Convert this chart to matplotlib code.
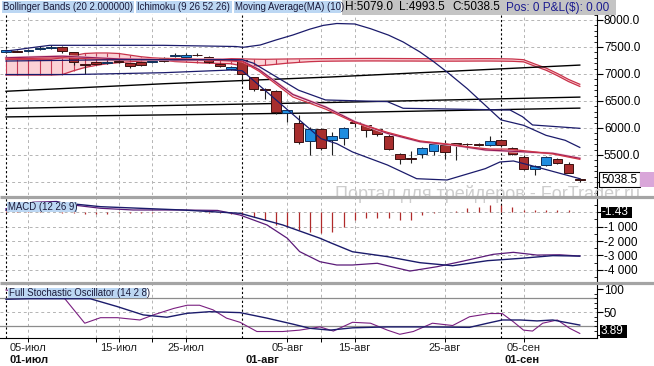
import matplotlib
matplotlib.use("Agg")
import matplotlib.pyplot as plt
import numpy as np
from matplotlib import font_manager
from matplotlib.patches import Rectangle
from matplotlib.transforms import blended_transform_factory

W, H = 654, 366

# slot = trading day index: 0 = 01 Jul, 21 = 01 Aug, 44 = 01 Sep
opens = [7400, 7420, 7430, 7460, 7480, 7505, 7400, 7180, 7216, 7200,
         7230, 7198, 7216, 7220, 7302, 7330, 7309, 7350, 7321, 7180,
         7087, 7259, 6944, 6710, 6679, 6278, 6093, 5753, 5980, 5772,
         5821, 6100, 6050, 5975, 5852, 5525, 5435, 5525, 5568, 5691,
         5710, 5700, 5700, 5679, 5784, 5630, 5463, 5235, 5321, 5420,
         5340, 5060]
highs = [7460, 7440, 7470, 7510, 7530, 7520, 7410, 7190, 7230, 7240,
         7250, 7210, 7230, 7260, 7320, 7380, 7380, 7380, 7340, 7200,
         7140, 7280, 6950, 6740, 6700, 6340, 6247, 6020, 6000, 5926,
         6010, 6115, 6060, 5990, 5895, 5540, 5575, 5640, 5730, 5772,
         5720, 5720, 5720, 5852, 5800, 5640, 5494, 5310, 5480, 5440,
         5370, 5079]
lows = [7390, 7400, 7410, 7440, 7460, 7390, 7167, 7005, 7160, 7180,
        7200, 7105, 7140, 7200, 7230, 7310, 7300, 7330, 7210, 7130,
        7070, 6858, 6679, 6531, 6260, 6111, 5710, 5494, 5600, 5500,
        5680, 6020, 5833, 5860, 5590, 5340, 5350, 5444, 5494, 5432,
        5402, 5620, 5660, 5660, 5650, 5500, 5222, 5124, 5300, 5330,
        5160, 4993.5]
closes = [7440, 7415, 7440, 7470, 7490, 7430, 7216, 7170, 7180, 7210,
          7220, 7154, 7167, 7240, 7246, 7340, 7352, 7345, 7228, 7148,
          7124, 7000, 6716, 6700, 6296, 6327, 5740, 5987, 5630, 5852,
          6000, 6095, 5957, 5895, 5605, 5432, 5430, 5630, 5710, 5556,
          5705, 5695, 5690, 5753, 5679, 5525, 5247, 5296, 5457, 5358,
          5172, 5038.5]

# Bollinger bands (20, 2)
bb_up_x = [0, 1, 2, 3.9, 14, 20.4, 21.1, 22.6, 24, 25.5, 27, 28.2, 29.4, 31,
           32.4, 34, 35.3, 36.8, 38, 39.2, 41, 42.6, 44, 45, 46, 48, 49.7, 51]
bb_up = [7426, 7450, 7480, 7531, 7531, 7509, 7495, 7537, 7630, 7722, 7830,
         7900, 7935, 7926, 7839, 7720, 7593, 7407, 7230, 7037, 6728, 6420,
         6150, 6100, 6050, 5864, 5772, 5640]
bb_lo_x = [0, 6, 14, 20, 21, 28, 29.4, 30.8, 33.9, 36.5, 39.2, 42.6, 43.9,
           45.1, 46.6, 51]
bb_lo = [6990, 6990, 7024, 7074, 7060, 5802, 5710, 5556, 5315, 5061, 5037,
         5247, 5370, 5389, 5309, 5061]

# Ichimoku (9 26 52 26)
kijun_x = [0, 10, 21, 22, 24, 26, 28.4, 33.9, 35.3, 44.8, 45.9, 46.8, 51]
kijun = [7240, 7265, 7265, 7200, 6950, 6700, 6519, 6488, 6365, 6333, 6210,
         6056, 5994]
tenkan_x = [0, 5, 10, 15, 19, 21, 22.5, 25.5, 28.4, 31, 33.9, 36.8, 39.7,
            41.5, 43, 44.5, 46, 48.6, 51]
tenkan = [7280, 7300, 7260, 7280, 7250, 7230, 7050, 6574, 6350, 6100, 5920,
          5760, 5690, 5640, 5610, 5610, 5580, 5520, 5420]
cloud_a = [7272, 7272, 7272, 7272, 7272, 7300, 7340, 7380, 7389, 7389,
           7380, 7350, 7320, 7300, 7290, 7286, 7284, 7282, 7280, 7282,
           7284, 7280, 7275, 7272, 7275, 7278, 7280, 7282, 7284, 7285,
           7286, 7287, 7288, 7288, 7287, 7286, 7285, 7284, 7283, 7282,
           7282, 7283, 7284, 7284, 7282, 7278, 7265, 7185, 7110, 7010,
           6900, 6810]
cloud_b = [6981, 6981, 6981, 6981, 6981, 6990, 7060, 7120, 7160, 7190,
           7210, 7225, 7240, 7250, 7255, 7230, 7220, 7210, 7200, 7195,
           7190, 7150, 7148, 7160, 7180, 7200, 7215, 7228, 7235, 7238,
           7240, 7241, 7242, 7242, 7241, 7240, 7240, 7239, 7238, 7238,
           7238, 7239, 7240, 7240, 7238, 7235, 7225, 7145, 7070, 6970,
           6860, 6770]

# Moving Average (10)
ma10_x = [0, 5, 10, 15, 19, 21, 22.5, 25.5, 28.4, 31, 33.9, 36.8, 39.7,
          42.6, 45.7, 48.6, 51]
ma10 = [7300, 7330, 7280, 7260, 7270, 7240, 7080, 6620, 6389, 6117, 5901,
        5747, 5685, 5593, 5562, 5531, 5438]

# long black lines
l1_x = [0, 14.1, 28.8, 51]
l1 = [6680, 6820, 6944, 7165]
l2_x = [0, 28.3, 51]
l2 = [6362, 6470, 6572]
l3_x = [0, 28.3, 51]
l3 = [6205, 6280, 6368]

# MACD (12 26 9)
macd_x = [0, 2.4, 4.5, 5.4, 8.4, 11.3, 15.7, 18.8, 20.8, 23.2, 25, 26.1,
          27.9, 29.4, 30.8, 33, 35.9, 38.3, 40.4, 43.3, 45.1, 47.2, 49.2, 51]
macd = [250, 700, 750, 560, 280, 160, 160, 130, -190, -880, -1800, -2730,
        -3430, -3660, -3660, -3540, -4080, -3780, -3430, -2920, -2780,
        -2970, -2950, -3040]
sig_x = [0, 2.4, 4.5, 8.4, 15.7, 20.8, 24.6, 27.9, 28.8, 30.8, 33.9, 36.8,
         39.7, 42.8, 45.7, 48.6, 51]
sig = [150, 600, 700, 390, 160, -70, -880, -1800, -2100, -2740, -3080,
       -3500, -3710, -3360, -3200, -3010, -3040]
hist = [60, 80, 90, 60, 40, -20, -60, -90, -110, -100,
        -80, -60, -40, -20, 0, 10, 20, -10, -40, -80,
        -120, -180, -300, -530, -880, -1000, -1230, -1350, -1460, -1350,
        -1000, -540, -420, -420, -370, -540, -540, -190, -40, 30,
        60, 280, 390, 500, 520, 390, 160, 160, 160, 160,
        130, 30]
macd_last = "-1.43"

# Full Stochastic (14 2 8)
k_x = [0, 5.2, 7.0, 8.4, 9.9, 11.9, 13.1, 14.9, 16.1, 17.2, 18.4, 19.6, 20.8,
       22.3, 24.6, 26.1, 27.9, 29.1, 30.8, 32.4, 33.9, 35.0, 36.2, 37.9, 39.7,
       41.2, 43.0, 44.1, 45.1, 46.0, 46.8, 47.7, 49.0, 50.1, 51.0]
k_val = [98, 80, 26, 38, 38, 33, 44, 58, 65, 65, 55, 37, 28,
         8, 8, 11, 18, 9, 28, 26, 11, 2, 8, 26, 21,
         40, 47, 47, 29, 11, 9, 26, 33, 15, 3.89]
d_x = [0, 2.1, 7.5, 9.9, 12.2, 14.3, 16.1, 18.1, 20.8, 23.2, 25.5, 27.0, 28.8,
       30.8, 33.9, 36.8, 41.2, 42.8, 44.1, 45.7, 47.2, 48.6, 51.0]
d_val = [78, 79, 79, 62, 44, 39, 47.5, 51, 49, 37, 24, 15, 11,
         16, 18, 18, 17, 26, 33, 33, 31, 33, 22]

date_slots = [2, 10, 16, 25, 31, 39, 46]
date_labels = ['05-июл', '15-июл', '25-июл', '05-авг', '15-авг', '25-авг', '05-сен']
month_slots = [0, 21, 44]
month_labels = ['01-июл', '01-авг', '01-сен']
grid_slots = [2, 8, 10, 13, 16, 25, 28, 31, 39, 46]

NAVY = '#1b1b6b'
GRID = '#b4b4b4'

plt.rcParams['font.family'] = ['Liberation Sans', 'DejaVu Sans']
try:
    font_manager.findfont('Liberation Sans Narrow', fallback_to_default=False)
    tag_family, tag_size = ['Liberation Sans Narrow', 'Liberation Sans'], 8.5
except Exception:
    tag_family, tag_size = ['Liberation Sans', 'DejaVu Sans'], 6.9


def px_box(x0, y0, x1, y1):
    return [x0 / W, 1 - y1 / H, (x1 - x0) / W, (y1 - y0) / H]


fig = plt.figure(figsize=(W / 100, H / 100), dpi=100)
fig.patch.set_facecolor('white')

ax = fig.add_axes(px_box(0, 14, 597, 195))
ax2 = fig.add_axes(px_box(0, 198, 597, 281))
ax3 = fig.add_axes(px_box(0, 284, 597, 338))

ax.set_ylim(4759, 8111)
ax2.set_ylim(-4771, 993)
ax3.set_ylim(-6.07, 111.06)

for a in (ax, ax2, ax3):
    a.set_xlim(-0.533, 52.53)
    a.set_facecolor('white')
    for s in ('left', 'top', 'bottom'):
        a.spines[s].set_visible(False)
    a.spines['right'].set_linewidth(0.8)
    a.yaxis.tick_right()
    a.tick_params(axis='y', which='major', length=4, width=0.8, pad=1,
                  labelsize=8.5, direction='out', colors='black')
    a.tick_params(axis='y', which='minor', length=2, width=0.6, direction='in')
    a.tick_params(axis='x', which='both', length=0, labelbottom=False)
    for gs in grid_slots:
        a.axvline(gs, color=GRID, lw=0.7, ls=(0, (3, 3)), zorder=0.5)
    for ms in month_slots:
        a.axvline(ms, color='black', lw=0.8, ls=(0, (2, 2)), zorder=0.6)

# ---- main price panel ----
for lev in range(5000, 8001, 500):
    ax.axhline(lev, color=GRID, lw=0.7, ls=(0, (3, 3)), zorder=0.5)
ax.set_yticks(range(5000, 8001, 500))
ax.set_yticks(range(4800, 8101, 100), minor=True)
# 5000 sits under the last-price box
ax.set_yticklabels([''] + [f'{v:.1f}' for v in range(5500, 8001, 500)])

slots = np.arange(len(opens))
ca = np.array(cloud_a)
cb = np.array(cloud_b)
ax.fill_between(slots, ca, cb, color='#fbd2d6', lw=0, zorder=1)
thick = (ca - cb) > 60
ax.vlines(slots[thick], cb[thick], ca[thick], color='#c43a55', lw=0.8, zorder=1.2)
ax.plot(slots, ca, color='#c8324a', lw=0.9, zorder=1.3)
ax.plot(slots, cb, color='#c8324a', lw=0.9, zorder=1.3)

for lx, ly in ((l1_x, l1), (l2_x, l2), (l3_x, l3)):
    ax.plot(lx, ly, color='black', lw=1.0, zorder=2)

o = np.array(opens)
c = np.array(closes)
up = c >= o
body_lo = np.minimum(o, c)
body_h = np.maximum(np.abs(c - o), 14)
ax.vlines(slots, lows, highs, color='#202020', lw=0.8, zorder=3)
ax.bar(slots, body_h, bottom=body_lo, width=0.85,
       color=np.where(up, '#1f8de0', '#a82e2e'),
       edgecolor=np.where(up, '#10305a', '#3a1010'), linewidth=0.7, zorder=3.2)

ax.plot(ma10_x, ma10, color='#f3c6d3', lw=1.8, zorder=3.6)
ax.plot(ma10_x, ma10, color='#941d5a', lw=0.9, zorder=4)
ax.plot(tenkan_x, tenkan, color='#cf3446', lw=0.9, zorder=4)
ax.plot(kijun_x, kijun, color=NAVY, lw=0.9, zorder=4)
ax.plot(bb_up_x, bb_up, color=NAVY, lw=0.9, zorder=4)
ax.plot(bb_lo_x, bb_lo, color=NAVY, lw=0.9, zorder=4)

# ---- MACD panel ----
for lev in (0, -1000, -2000, -3000, -4000):
    ax2.axhline(lev, color=GRID, lw=0.7, ls=(0, (3, 3)), zorder=0.5)
ax2.set_yticks([0, -1000, -2000, -3000, -4000])
ax2.set_yticks(range(-4500, 501, 500), minor=True)
ax2.set_yticklabels(['', '-1 000', '-2 000', '-3 000', '-4 000'])
ax2.vlines(slots, 0, hist, color='#b02a2a', lw=0.9, zorder=2)
ax2.plot(macd_x, macd, color='#5a1a78', lw=0.9, zorder=3)
ax2.plot(sig_x, sig, color=NAVY, lw=1.0, zorder=3)

# ---- Stochastic panel ----
ax3.axhline(50, color=GRID, lw=0.7, ls=(0, (3, 3)), zorder=0.5)
for lev in (80, 20):
    ax3.axhline(lev, color='#8c8c8c', lw=0.9, zorder=0.7)
ax3.set_yticks([0, 50, 100])
ax3.set_yticks(range(0, 101, 10), minor=True)
ax3.set_yticklabels(['', '50', '100'])
ax3.plot(k_x, k_val, color='#7a1f80', lw=0.8, zorder=3)
ax3.plot(d_x, d_val, color=NAVY, lw=1.0, zorder=3)
ax3.spines['bottom'].set_visible(True)
ax3.spines['bottom'].set_linewidth(0.8)
ax3.set_xticks(grid_slots)
ax3.tick_params(axis='x', which='major', length=3, width=0.7, direction='out')

# ---- overlay in pixel coordinates ----
ov = fig.add_axes([0, 0, 1, 1], zorder=10)
ov.set_xlim(0, W)
ov.set_ylim(H, 0)
ov.axis('off')


def y_px(axis, v):
    return H - axis.transData.transform((0, v))[1]


ov.text(335, 199, 'Портал для трейдеров - ForTrader.ru', fontsize=13,
        color='#cdcdcd', va='baseline', ha='left', zorder=1)
for ys in (196.5, 282.5):
    ov.plot([0, W], [ys, ys], color='#a4a4a4', lw=2.3, zorder=2,
            solid_capstyle='butt')

# header
blue = '#bcd7f3'
tags = [(2, 134, 'Bollinger Bands (20 2.000000)'),
        (136, 232, 'Ichimoku (9 26 52 26)'),
        (234, 341, 'Moving Average(MA) (10)')]
for x0, x1, s in tags:
    ov.add_patch(Rectangle((x0, 1), x1 - x0, 12, fc=blue, ec='none', zorder=3))
    ov.text(x0 + 1, 7.5, s, fontsize=tag_size, family=tag_family,
            color='#1a1a3a', va='center', ha='left', zorder=4)
ov.add_patch(Rectangle((342, 0), 274, 15, fc='#c4c4c4', ec='none', zorder=3))
ov.text(345, 7.5, f'H:{highs[-1]:.1f}', fontsize=8.5, va='center', zorder=4)
ov.text(399, 7.5, f'L:{lows[-1]:.1f}', fontsize=8.5, va='center', zorder=4)
ov.text(452, 7.5, f'C:{closes[-1]:.1f}', fontsize=8.5, va='center', zorder=4)
ov.text(506, 7.5, r'Pos: 0 P&L(\$): 0.00', fontsize=8.5, va='center',
        color='#1c1c90', zorder=4)

# panel tags
ov.add_patch(Rectangle((7, 202), 70, 10, fc=blue, ec='none', zorder=3))
ov.text(8, 207, 'MACD (12 26 9)', fontsize=tag_size, family=tag_family,
        color='#1a1a3a', va='center', zorder=4)
ov.add_patch(Rectangle((8, 288), 139, 10, fc=blue, ec='none', zorder=3))
ov.text(9, 293, 'Full Stochastic Oscillator (14 2 8)', fontsize=tag_size,
        family=tag_family, color='#1a1a3a', va='center', zorder=4)

# last value boxes
yc = y_px(ax, closes[-1])
ov.add_patch(Rectangle((599, yc - 7.5), 41, 15, fc='white', ec='black', lw=0.8, zorder=3))
ov.add_patch(Rectangle((640, yc - 7.5), 14, 15, fc='#d9a6d9', ec='none', zorder=3))
ov.text(601, yc, f'{closes[-1]:.1f}', fontsize=8.5, va='center', zorder=4)

ym = y_px(ax2, 0)
ov.add_patch(Rectangle((601, ym - 5.5), 31, 11, fc='black', ec='none', zorder=3))
ov.text(602, ym, macd_last, fontsize=8.5, color='white', va='center', zorder=4)

ys = min(y_px(ax3, k_val[-1]), 331.5)
ov.add_patch(Rectangle((600, ys - 6.5), 27, 13, fc='black', ec='none', zorder=3))
ov.text(601, ys, f'{k_val[-1]:.2f}', fontsize=8.5, color='white', va='center', zorder=4)

# date labels
tr = blended_transform_factory(ax3.transData, ov.transData)
for s, lab in zip(date_slots, date_labels):
    ov.text(s, 348, lab, transform=tr, fontsize=8, color='#222222',
            ha='center', va='center', zorder=4)
for s, lab in zip(month_slots, month_labels):
    ov.text(s + 0.3, 360, lab, transform=tr, fontsize=8, color='#111111',
            ha='left', va='center', fontweight='bold', zorder=4)

fig.savefig('out.png', dpi=100)
